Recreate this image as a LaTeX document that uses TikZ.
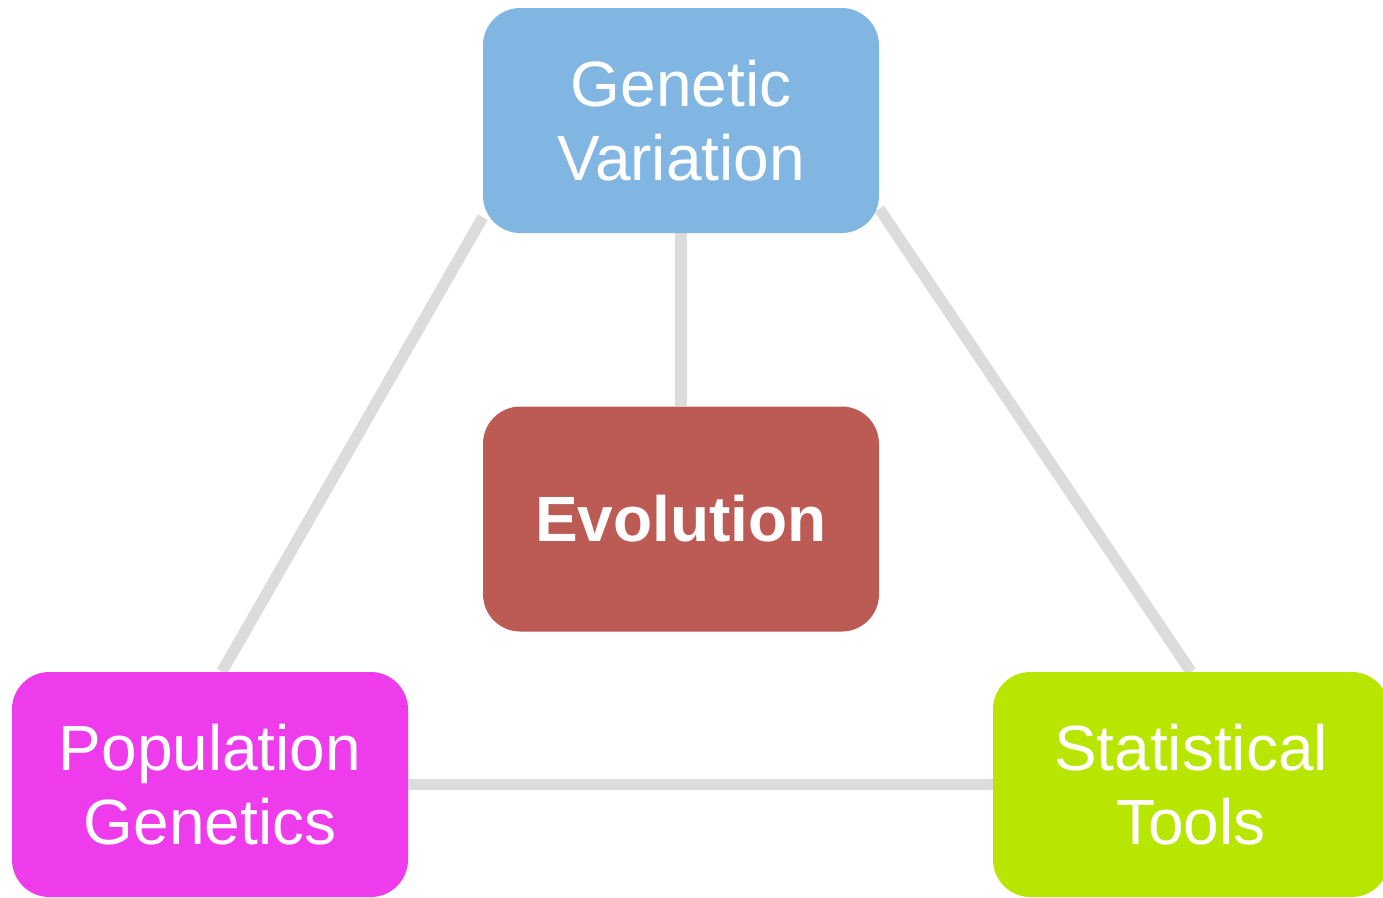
\documentclass[tikz,border=0pt]{standalone}
\usepackage{fontspec}
\setmainfont{Liberation Sans}
\usetikzlibrary{positioning, backgrounds}

\definecolor{gvblue}{HTML}{82B6E2}
\definecolor{evored}{HTML}{BC5B54}
\definecolor{pgpink}{HTML}{EE3BEB}
\definecolor{stgreen}{HTML}{B8E600}
\definecolor{linkgray}{HTML}{DCDCDC}

\begin{document}
\begin{tikzpicture}[x=0.75pt,y=-0.75pt]
	\tikzstyle{topic}=[rounded corners=28pt, minimum width=297pt, minimum height=168.75pt, align=center, text=white, inner sep=0pt, font=\fontsize{48}{56}\selectfont]
	\tikzstyle{link}=[draw=linkgray, line width=8.5pt]

	\clip (0,0) rectangle (1383,897);

	\node[topic, fill=gvblue] (gv) at (681,120.5) {Genetic\\Variation};
	\node[topic, fill=evored, below=129.75pt of gv, font=\fontsize{48}{56}\selectfont\bfseries] (evo) {Evolution};
	\node[topic, fill=pgpink] (pg) at (210,784.5) {Population\\Genetics};
	\node[topic, fill=stgreen] (st) at (1191,784.5) {Statistical\\Tools};

	% links go under the boxes
	\begin{scope}[on background layer]
		\draw[link] (gv.south) -- (evo.north);
		\draw[link] (gv.206) -- (pg.84);
		\draw[link] (gv.-24) -- (st.north);
		\draw[link] (pg.east) -- (st.west);
	\end{scope}
\end{tikzpicture}
\end{document}
